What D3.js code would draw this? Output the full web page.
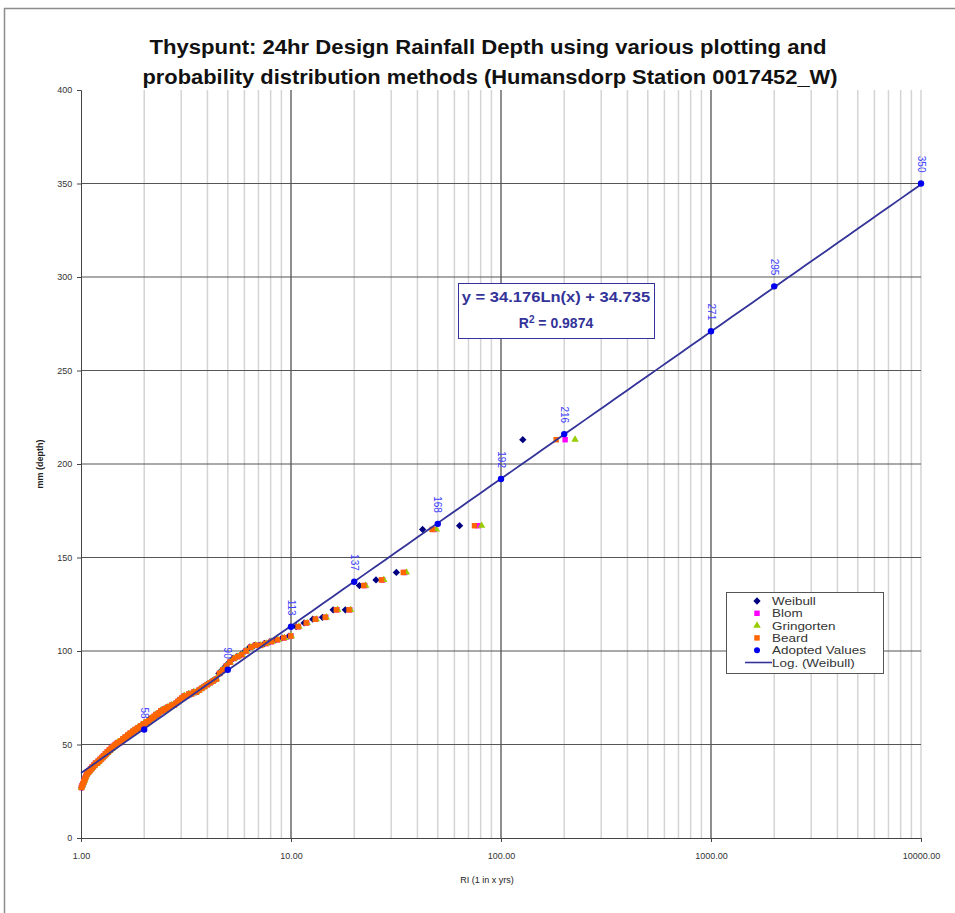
<!DOCTYPE html>
<html>
<head>
<meta charset="utf-8">
<script src="https://cdn.jsdelivr.net/npm/d3@7/dist/d3.min.js"></script>
<style>
  body { margin: 0; background: #fff; }
  svg text { font-family: "Liberation Sans", Arial, sans-serif; }
</style>
</head>
<body>
<div id="chart"></div>
<script>
// annual maximum 24hr depths (mm), ranked largest first
const annualMaxDepth = [
  213, 167, 165, 142, 138, 135, 122, 122, 118, 117, 115, 113, 108, 107, 106, 105,
  104, 103, 103, 102, 100, 98, 97, 96, 94, 92, 90, 88, 85, 84, 83, 82,
  81, 80, 79, 78, 78, 77, 77, 76, 76, 75, 74, 73, 72, 71, 71, 70,
  70, 69, 69, 68, 68, 67, 66, 66, 65, 64, 64, 63, 62, 62, 61, 61,
  60, 60, 59, 59, 58, 58, 57, 57, 56, 56, 55, 55, 54, 54, 53, 53,
  52, 52, 51, 51, 51, 50, 50, 49, 49, 48, 48, 47, 47, 46, 46, 45,
  45, 44, 44, 43, 43, 42, 42, 41, 41, 40, 40, 40, 39, 39, 38, 38,
  37, 37, 36, 36, 35, 35, 34, 33, 32, 31, 30, 29, 28, 27
]

// plotting position methods: T = (n + 1 - 2a) / (m - a)
const methodNames = ['Weibull', 'Blom', 'Gringorten', 'Beard']
const methodAlpha = [0, 0.375, 0.44, 0.31]
const methodColors = ['#000080', '#ff00ff', '#99cc00', '#ff6600']
const methodShapes = ['diamond', 'square', 'triangle', 'square']

const adoptedRI = [2, 5, 10, 20, 50, 100, 200, 1000, 2000, 10000]
const adoptedDepth = [58, 90, 113, 137, 168, 192, 216, 271, 295, 350]

// Log trendline on Weibull
const trendSlope = 34.176
const trendIntercept = 34.735
const trendR2 = 0.9874

const xTickValues = [1, 10, 100, 1000, 10000]
const yTickValues = [0, 50, 100, 150, 200, 250, 300, 350, 400]

const width = 955, height = 913
const plot = { left: 81, right: 921, top: 90, bottom: 838 }

const svg = d3.select('#chart').append('svg')
  .attr('width', width)
  .attr('height', height)

// stretch a text horizontally (the source image is a bit wider than the fonts)
const stretch = (sel, factor) => sel.each(function () {
  const w = this.getComputedTextLength()
  d3.select(this).attr('textLength', w * factor).attr('lengthAdjust', 'spacingAndGlyphs')
})

// outer chart frame
svg.append('rect')
  .attr('x', 4.5).attr('y', 8.5)
  .attr('width', 960).attr('height', 930)
  .attr('fill', 'none')
  .attr('stroke', '#8c8c8c')
  .attr('stroke-width', 1.5)

const x = d3.scaleLog().domain([1, 10000]).range([plot.left, plot.right])
const y = d3.scaleLinear().domain([0, 400]).range([plot.bottom, plot.top])

// minor log gridlines
const minorTicks = []
for (let dec = 1; dec < 10000; dec *= 10) {
  for (let k = 2; k <= 9; k++) minorTicks.push(dec * k)
}
minorTicks.push(10000)
svg.append('g').selectAll('line').data(minorTicks).join('line')
  .attr('x1', d => x(d)).attr('x2', d => x(d))
  .attr('y1', plot.top).attr('y2', plot.bottom)
  .attr('stroke', '#d4d4d4').attr('stroke-width', 1.5)

// major vertical gridlines
svg.append('g').selectAll('line').data([10, 100, 1000]).join('line')
  .attr('x1', d => x(d)).attr('x2', d => x(d))
  .attr('y1', plot.top).attr('y2', plot.bottom)
  .attr('stroke', '#444').attr('stroke-width', 1.2)

// horizontal gridlines
svg.append('g').selectAll('line').data(yTickValues.filter(d => d > 0 && d < 400)).join('line')
  .attr('x1', plot.left).attr('x2', plot.right)
  .attr('y1', d => y(d)).attr('y2', d => y(d))
  .attr('stroke', '#555').attr('stroke-width', 1.2)

// axes
const xAxis = d3.axisBottom(x).tickValues(xTickValues).tickSize(4)
  .tickFormat(d3.format('.2f'))
const yAxis = d3.axisLeft(y).tickValues(yTickValues).tickSize(4)

const gx = svg.append('g').attr('transform', `translate(0,${plot.bottom})`).call(xAxis)
const gy = svg.append('g').attr('transform', `translate(${plot.left},0)`).call(yAxis)
;[gx, gy].forEach(g => {
  g.select('.domain').attr('stroke', '#444')
  g.selectAll('.tick line').attr('stroke', '#444')
  g.selectAll('.tick text').attr('fill', '#333').style('font-size', '9px')
})
gx.selectAll('.tick text').attr('dy', '1.6em')
gy.selectAll('.tick text').attr('dx', '-0.2em')

// scatter series
const n = annualMaxDepth.length
const seriesData = methodNames.map((name, i) => ({
  name,
  color: methodColors[i],
  shape: methodShapes[i],
  points: annualMaxDepth.map((v, j) => ({
    ri: (n + 1 - 2 * methodAlpha[i]) / (j + 1 - methodAlpha[i]),
    v
  }))
}))

const symbolFor = shape => {
  if (shape === 'diamond') return d3.symbol().type(d3.symbolDiamond2).size(34)
  if (shape === 'triangle') return d3.symbol().type(d3.symbolTriangle2).size(40)
  return d3.symbol().type(d3.symbolSquare2).size(38)
}

seriesData.forEach(s => {
  svg.append('g').selectAll('path').data(s.points).join('path')
    .attr('transform', d => `translate(${x(d.ri)},${y(d.v)})`)
    .attr('d', symbolFor(s.shape)())
    .attr('fill', s.color)
})

// trendline
const trendRI = d3.range(0, 4.001, 0.05).map(e => Math.pow(10, e))
const line = d3.line().x(d => x(d)).y(d => y(trendSlope * Math.log(d) + trendIntercept))
svg.append('path')
  .datum(trendRI)
  .attr('d', line)
  .attr('fill', 'none')
  .attr('stroke', '#333399')
  .attr('stroke-width', 1.8)

// adopted values
const adopted = adoptedRI.map((ri, i) => ({ ri, v: adoptedDepth[i] }))
svg.append('g').selectAll('circle').data(adopted).join('circle')
  .attr('cx', d => x(d.ri)).attr('cy', d => y(d.v))
  .attr('r', 3.2)
  .attr('fill', '#0000ee')

svg.append('g').selectAll('text').data(adopted).join('text')
  .attr('transform', d => `translate(${x(d.ri)},${y(d.v) - 11}) rotate(90)`)
  .attr('text-anchor', 'end')
  .attr('dy', '0.35em')
  .attr('fill', '#4040ff')
  .style('font-size', '10px')
  .text(d => d.v)

// equation box
svg.append('rect')
  .attr('x', 458.5).attr('y', 283.5)
  .attr('width', 196).attr('height', 55)
  .attr('fill', '#fff')
  .attr('stroke', '#333399').attr('stroke-width', 1)
const eq = svg.append('text')
  .attr('x', 556).attr('y', 302)
  .attr('text-anchor', 'middle')
  .attr('fill', '#333399')
  .style('font-size', '14px').style('font-weight', 'bold')
  .text(`y = ${trendSlope}Ln(x) + ${trendIntercept}`)
stretch(eq, 1.18)
const r2 = svg.append('text')
  .attr('x', 556).attr('y', 328)
  .attr('text-anchor', 'middle')
  .attr('fill', '#333399')
  .style('font-size', '14px').style('font-weight', 'bold')
r2.append('tspan').text('R')
r2.append('tspan').attr('dy', -5).style('font-size', '10px').text('2')
r2.append('tspan').attr('dy', 5).text(` = ${trendR2}`)

// legend
const legend = svg.append('g').attr('transform', 'translate(726,592)')
legend.append('rect')
  .attr('x', 0.5).attr('y', 0.5).attr('width', 157).attr('height', 81)
  .attr('fill', '#fff').attr('stroke', '#555')
const legendItems = methodNames.map((name, i) => ({ name, color: methodColors[i], shape: methodShapes[i] }))
  .concat([{ name: 'Adopted Values', color: '#0000ee', shape: 'circle' },
           { name: 'Log. (Weibull)', color: '#333399', shape: 'line' }])
legendItems.forEach((d, i) => {
  const yy = 9 + i * 12.3
  if (d.shape === 'line') {
    legend.append('line').attr('x1', 19).attr('x2', 46).attr('y1', yy).attr('y2', yy)
      .attr('stroke', d.color).attr('stroke-width', 1.6)
  } else if (d.shape === 'circle') {
    legend.append('circle').attr('cx', 31).attr('cy', yy).attr('r', 3).attr('fill', d.color)
  } else {
    legend.append('path').attr('transform', `translate(31,${yy})`)
      .attr('d', symbolFor(d.shape)()).attr('fill', d.color)
  }
  const t = legend.append('text').attr('x', 46).attr('y', yy + 4)
    .attr('fill', '#333').style('font-size', '10.5px').text(d.name)
  stretch(t, 1.28)
})

// titles
const title = svg.append('g')
  .attr('fill', '#111').style('font-size', '20px').style('font-weight', 'bold')
const t1 = title.append('text').attr('text-anchor', 'middle').attr('x', 488).attr('y', 54)
  .text('Thyspunt: 24hr Design Rainfall Depth using various plotting and')
const t2 = title.append('text').attr('text-anchor', 'middle').attr('x', 490).attr('y', 84)
  .text('probability distribution methods (Humansdorp Station 0017452_W)')
t1.attr('textLength', 677).attr('lengthAdjust', 'spacingAndGlyphs')
t2.attr('textLength', 695).attr('lengthAdjust', 'spacingAndGlyphs')

svg.append('text')
  .attr('x', 487).attr('y', 883)
  .attr('text-anchor', 'middle')
  .attr('fill', '#222')
  .style('font-size', '9px')
  .text('RI (1 in x yrs)')

svg.append('text')
  .attr('transform', 'translate(43,464) rotate(-90)')
  .attr('text-anchor', 'middle')
  .attr('fill', '#222')
  .style('font-size', '9px').style('font-weight', 'bold')
  .text('mm (depth)')
</script>
</body>
</html>
